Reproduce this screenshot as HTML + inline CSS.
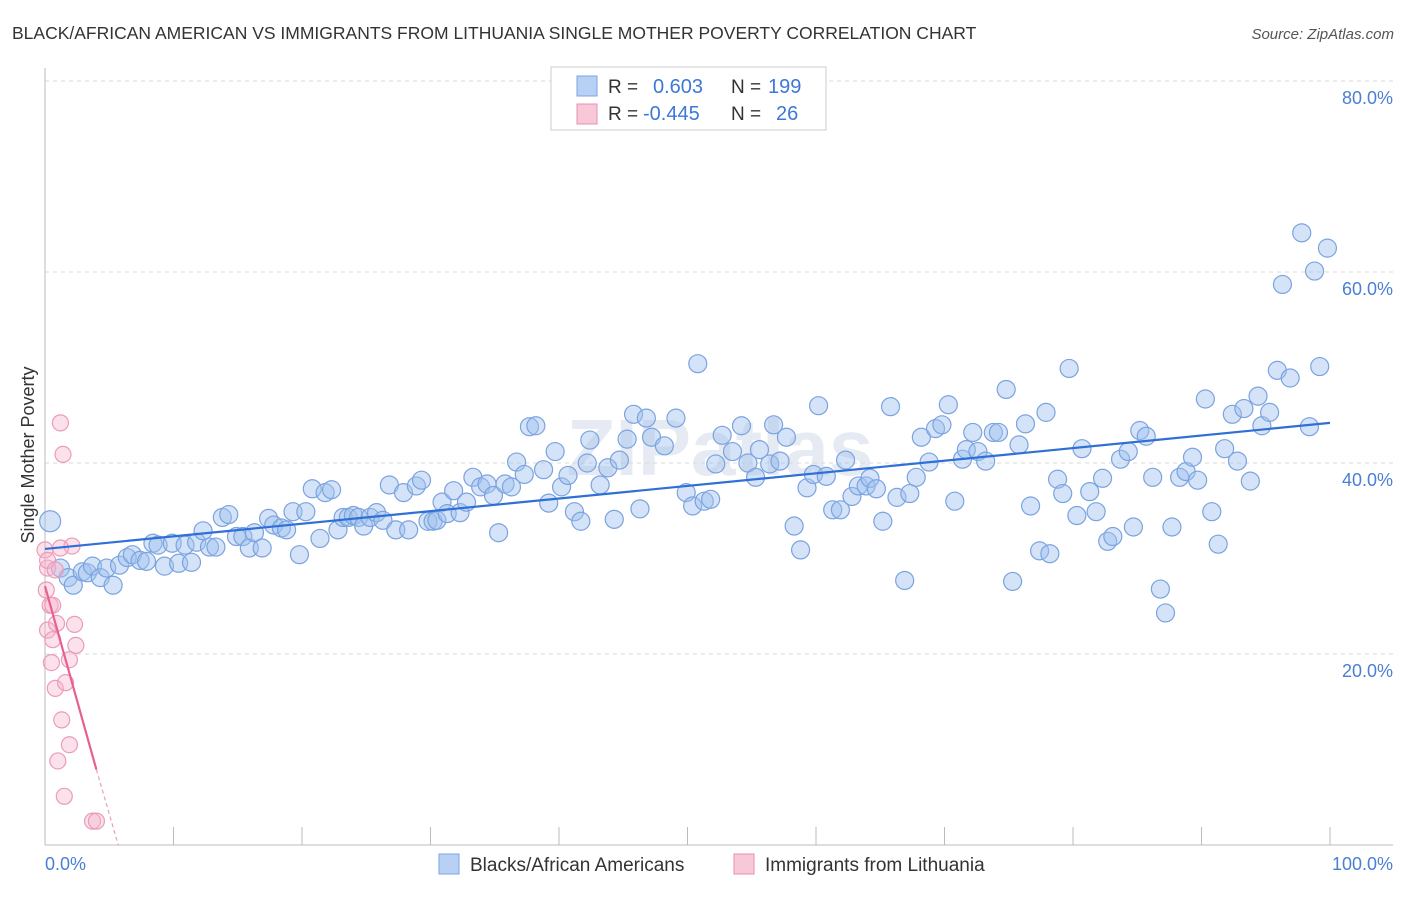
<!DOCTYPE html>
<html><head><meta charset="utf-8"><style>
body{margin:0;background:#fff;font-family:"Liberation Sans",sans-serif}
svg text{font-family:"Liberation Sans",sans-serif}
</style></head><body>
<svg id="chart" width="1406" height="892" viewBox="0 0 1406 892">
<text x="12" y="39" font-size="17.5" fill="#333">BLACK/AFRICAN AMERICAN VS IMMIGRANTS FROM LITHUANIA SINGLE MOTHER POVERTY CORRELATION CHART</text>
<text x="1394" y="39" font-size="15" fill="#555" font-style="italic" text-anchor="end">Source: ZipAtlas.com</text>
<text x="720" y="475" font-size="80" fill="#e6ebf3" text-anchor="middle" font-weight="bold">ZIPatlas</text>
<g id="grid"></g><g id="axes"></g><g id="pts"></g><g id="trend"></g>
<text transform="translate(34,455) rotate(-90)" font-size="18" fill="#333" text-anchor="middle">Single Mother Poverty</text>
<g>
<rect x="551" y="67" width="275" height="63" fill="#fff" stroke="#ccc"/>
<rect x="577" y="76" width="20" height="20" fill="#b8d0f3" stroke="#7ba3e0"/>
<rect x="577" y="104" width="20" height="20" fill="#f9c8d8" stroke="#e890b0"/>
<text x="608" y="93" font-size="19" fill="#333">R = </text><text x="653" y="93" font-size="20" fill="#3d78d8">0.603</text>
<text x="731" y="93" font-size="19" fill="#333">N = </text><text x="768" y="93" font-size="20" fill="#3d78d8">199</text>
<text x="608" y="120" font-size="19" fill="#333">R = </text><text x="643" y="120" font-size="20" fill="#3d78d8">-0.445</text>
<text x="731" y="120" font-size="19" fill="#333">N = </text><text x="776" y="120" font-size="20" fill="#3d78d8">26</text>
</g>
<g>
<rect x="439" y="854" width="20" height="20" fill="#b8d0f3" stroke="#7ba3e0"/>
<text x="470" y="871" font-size="19" fill="#333">Blacks/African Americans</text>
<rect x="734" y="854" width="20" height="20" fill="#f9c8d8" stroke="#e890b0"/>
<text x="765" y="871" font-size="19" fill="#333">Immigrants from Lithuania</text>
</g>
</svg>
<script>
const yTicks=[20,40,60,80];
const yTickLabels=["20.0%","40.0%","60.0%","80.0%"];
const xTicks=[0,10,20,30,40,50,60,70,80,90,100];
const blueX=[0.4,1.2,1.8,2.2,2.9,3.3,3.7,4.3,4.8,5.3,5.8,6.4,6.8,7.4,7.9,8.4,8.8,9.3,9.9,10.4,10.9,11.4,11.8,12.3,12.8,13.3,13.8,14.3,14.9,15.4,15.9,16.3,16.9,17.4,17.8,18.4,18.8,19.3,19.8,20.3,20.8,21.4,21.8,22.3,22.8,23.2,23.6,24.0,24.4,24.8,25.3,25.8,26.3,26.8,27.3,27.9,28.3,28.9,29.3,29.8,30.2,30.5,30.9,31.3,31.8,32.3,32.8,33.3,33.9,34.4,34.9,35.3,35.8,36.3,36.7,37.3,37.7,38.2,38.8,39.2,39.7,40.2,40.7,41.2,41.7,42.2,42.4,43.2,43.8,44.3,44.7,45.3,45.8,46.3,46.8,47.2,48.2,49.1,49.9,50.4,50.8,51.3,51.8,52.2,52.7,53.5,54.2,54.7,55.3,55.6,56.4,56.7,57.2,57.7,58.3,58.8,59.3,59.8,60.2,60.8,61.3,61.9,62.3,62.8,63.3,63.9,64.2,64.7,65.2,65.8,66.3,66.9,67.3,67.8,68.2,68.8,69.3,69.8,70.3,70.8,71.4,71.7,72.2,72.6,73.2,73.8,74.2,74.8,75.3,75.8,76.3,76.7,77.4,77.9,78.2,78.8,79.2,79.7,80.3,80.7,81.3,81.8,82.3,82.7,83.1,83.7,84.3,84.7,85.2,85.7,86.2,86.8,87.2,87.7,88.3,88.8,89.3,89.7,90.3,90.8,91.3,91.8,92.4,92.8,93.3,93.8,94.4,94.7,95.3,95.9,96.9,97.8,96.3,98.8,99.8,98.4,99.2];
const blueY=[33.9,29.0,28.0,27.2,28.6,28.5,29.2,28.0,29.0,27.2,29.3,30.1,30.4,29.8,29.7,31.6,31.4,29.2,31.6,29.5,31.4,29.6,31.7,32.9,31.2,31.2,34.3,34.6,32.3,32.3,31.1,32.7,31.1,34.2,33.5,33.2,33.0,34.9,30.4,34.9,37.3,32.1,36.9,37.2,33.0,34.3,34.3,34.5,34.3,33.4,34.3,34.8,34.0,37.7,33.0,36.9,33.0,37.6,38.2,33.9,33.9,34.0,35.9,34.7,37.1,34.8,35.9,38.5,37.5,37.8,36.6,32.7,37.8,37.5,40.1,38.8,43.8,43.9,39.3,35.8,41.2,37.5,38.7,34.9,33.9,40.0,42.4,37.7,39.5,34.1,40.3,42.5,45.1,35.2,44.7,42.7,41.8,44.7,36.9,35.5,50.4,36.0,36.2,39.9,42.9,41.2,43.9,40.0,38.5,41.4,39.9,44.0,40.2,42.7,33.4,30.9,37.4,38.8,46.0,38.6,35.1,35.1,40.3,36.5,37.6,37.6,38.4,37.3,33.9,45.9,36.4,27.7,36.8,38.5,42.7,40.1,43.6,44.0,46.1,36.0,40.4,41.4,43.2,41.2,40.2,43.2,43.2,47.7,27.6,41.9,44.1,35.5,30.8,45.3,30.5,38.3,36.8,49.9,34.5,41.5,37.0,34.9,38.4,31.8,32.3,40.4,41.2,33.3,43.4,42.8,38.5,26.8,24.3,33.3,38.5,39.1,40.6,38.2,46.7,34.9,31.5,41.5,45.1,40.2,45.7,38.1,47.0,43.9,45.3,49.7,48.9,64.1,58.7,60.1,62.5,43.8,50.1];
const pinkX=[0.0,0.2,0.4,0.6,0.2,0.6,0.9,1.2,1.4,2.1,2.3,2.4,1.9,0.5,0.8,1.6,1.3,1.9,1.0,1.5,3.7,4.0,0.2,1.2,0.1,0.8];
const pinkY=[30.9,29.0,25.1,25.1,22.5,21.5,23.2,44.2,40.9,31.3,23.1,20.9,19.4,19.1,16.4,17.0,13.1,10.5,8.8,5.1,2.5,2.5,29.8,31.1,26.7,28.8];
const blueTrendX=[0,100], blueTrendY=[31.0,44.2];
const pinkTrendX=[0,4.0,5.7], pinkTrendY=[27.1,7.9,0];
const NS="http://www.w3.org/2000/svg";
const X0=45,X1=1330,Y0=845,Y80=81;
const sx=v=>X0+(X1-X0)*v/100;
const sy=v=>Y0-(Y0-Y80)*v/80;
function mk(p,tag,at){const e=document.createElementNS(NS,tag);for(const k in at)e.setAttribute(k,at[k]);document.getElementById(p).appendChild(e);return e;}
yTicks.forEach((t,i)=>{
 const l=mk('grid','line',{x1:X0,x2:1393,y1:sy(t),y2:sy(t),stroke:'#d8d8d8','stroke-dasharray':'4,4'});
 
 
 const tx=mk('grid','text',{x:1393,y:sy(t)+23,'font-size':18,fill:'#4a7fd4','text-anchor':'end'});
 tx.textContent=yTickLabels[i];
 
 
});
const ax=mk('axes','line',{x1:X0,x2:1393,y1:Y0,y2:Y0,stroke:'#bbb'});


const ay=mk('axes','line',{x1:X0,x2:X0,y1:68,y2:Y0,stroke:'#bbb'});


xTicks.forEach(t=>{const l=mk('axes','line',{x1:sx(t),x2:sx(t),y1:827,y2:Y0,stroke:'#bbb'});
 
 });
const xl0=mk('axes','text',{x:45,y:870,'font-size':18,fill:'#4a7fd4'});xl0.textContent='0.0%';


const xl1=mk('axes','text',{x:1393,y:870,'font-size':18,fill:'#4a7fd4','text-anchor':'end'});xl1.textContent='100.0%';


blueX.forEach((v,i)=>{const c=mk('pts','circle',{cx:sx(v),cy:sy(blueY[i]),r:i===0?10.5:9,fill:'rgba(160,192,238,0.45)',stroke:'#7ba3e0','stroke-width':1.2});
 
 });
pinkX.forEach((v,i)=>{const c=mk('pts','circle',{cx:sx(v),cy:sy(pinkY[i]),r:8,fill:'rgba(245,180,205,0.4)',stroke:'#eb9bb8','stroke-width':1.2});
 
 });
const bt=mk('trend','line',{x1:sx(blueTrendX[0]),y1:sy(blueTrendY[0]),x2:sx(blueTrendX[1]),y2:sy(blueTrendY[1]),stroke:'#2f6fd6','stroke-width':2.2});


const pt=mk('trend','line',{x1:sx(pinkTrendX[0]),y1:sy(pinkTrendY[0]),x2:sx(pinkTrendX[1]),y2:sy(pinkTrendY[1]),stroke:'#e8608f','stroke-width':2.2});


const pd=mk('trend','line',{x1:sx(pinkTrendX[1]),y1:sy(pinkTrendY[1]),x2:sx(pinkTrendX[2]),y2:sy(pinkTrendY[2]),stroke:'#e8a0b8','stroke-width':1.2,'stroke-dasharray':'4,3'});


</script>
</body></html>
